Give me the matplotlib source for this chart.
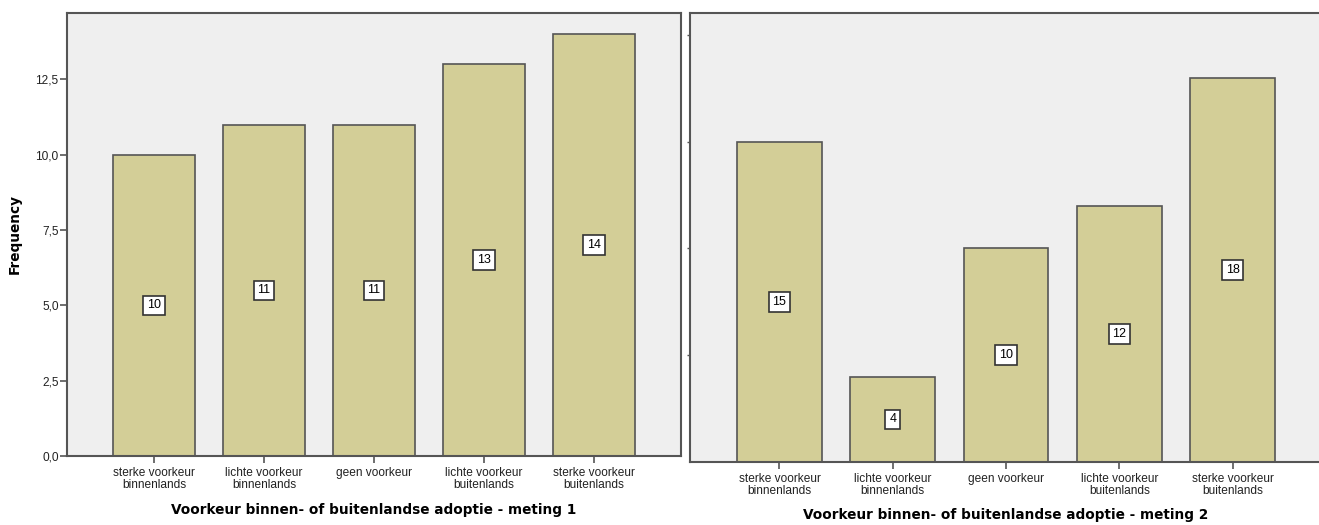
import matplotlib
matplotlib.use("Agg")
import matplotlib.pyplot as plt
import numpy as np

categories = ["sterke voorkeur\nbinnenlands", "lichte voorkeur\nbinnenlands", "geen voorkeur",
              "lichte voorkeur\nbuitenlands", "sterke voorkeur\nbuitenlands"]
meting1 = [10, 11, 11, 13, 14]
meting2 = [15, 4, 10, 12, 18]
xtitle1 = "Voorkeur binnen- of buitenlandse adoptie - meting 1"
xtitle2 = "Voorkeur binnen- of buitenlandse adoptie - meting 2"
yticks1 = [0, 2.5, 5.0, 7.5, 10.0, 12.5]
ytick_labels1 = ["0,0", "2,5", "5,0", "7,5", "10,0", "12,5"]
yticks2 = [5, 10, 15, 20]

W, H = 1319, 525
fig = plt.figure(figsize=(W / 100, H / 100), dpi=100)
fig.patch.set_facecolor("white")

bg = "#EFEFEF"
barc = "#D3CE97"
edge = "#555555"
spine_c = "#555555"
tickfont = "Liberation Sans"
titlefont = "DejaVu Sans"


def ax_rect(l, r, b, t):
    return [l / W, 1 - b / H, (r - l) / W, (b - t) / H]


def style(ax, vals, ylim, xtitle, pad):
    ax.set_facecolor(bg)
    x = np.arange(len(vals))
    ax.bar(x, vals, width=0.75, color=barc, edgecolor=edge, linewidth=1.2, zorder=2)
    for xi, v in zip(x, vals):
        ax.text(xi, v / 2, str(v), ha="center", va="center", fontsize=9,
                family=tickfont, zorder=3,
                bbox=dict(boxstyle="square,pad=0.3", fc="white", ec="#333333", lw=1.2))
    ax.set_xlim(-0.79, len(vals) - 1 + 0.79)
    ax.set_ylim(*ylim)
    ax.set_xticks(x)
    ax.set_xticklabels(categories, fontsize=8.6, family=tickfont, linespacing=0.95, color="#222222")
    ax.tick_params(axis="x", direction="out", length=5, width=1.2, color=spine_c, pad=3)
    ax.tick_params(axis="y", direction="out", length=5, width=1.2, color=spine_c, pad=1)
    for s in ax.spines.values():
        s.set_color(spine_c)
        s.set_linewidth(1.5)
    ax.set_xlabel(xtitle, fontsize=9.8, fontweight="bold", family=titlefont, labelpad=pad)


ax1 = fig.add_axes(ax_rect(67, 681, 456, 13))
style(ax1, meting1, (0, 14.7), xtitle1, 9)
ax1.set_yticks(yticks1)
ax1.set_yticklabels(ytick_labels1, fontsize=8.6, family=tickfont, color="#222222")
ax1.set_ylabel("Frequency", fontsize=9.8, fontweight="bold", family=titlefont, labelpad=10)

ax2 = fig.add_axes(ax_rect(690, 1322, 462, 13))
style(ax2, meting2, (0, 21.03), xtitle2, 8)
ax2.set_yticks(yticks2)
ax2.set_yticklabels([])
ax2.tick_params(axis="y", length=2, width=1.0)

fig.savefig("out.png", dpi=100, facecolor="white")
